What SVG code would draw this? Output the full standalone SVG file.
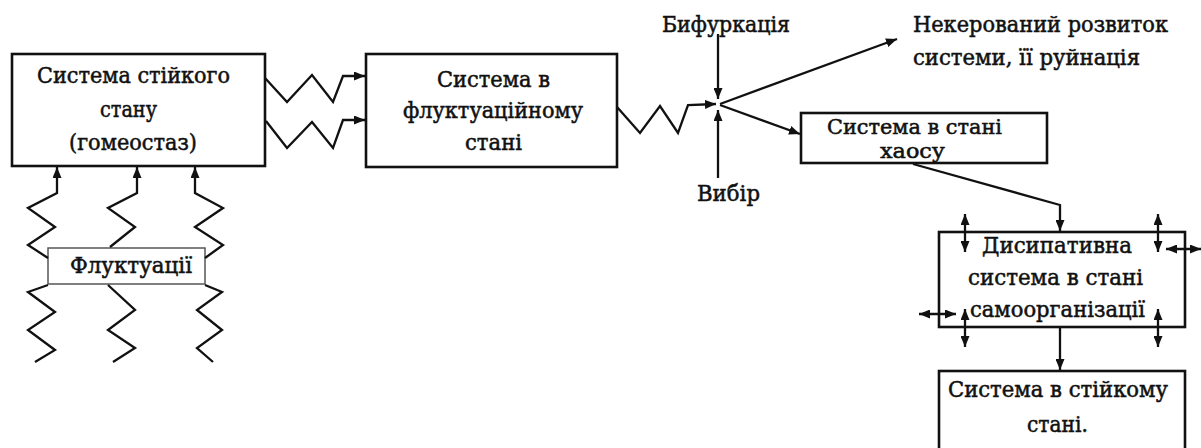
<svg xmlns="http://www.w3.org/2000/svg" width="1201" height="448" viewBox="0 0 1201 448">
<style>
.box{fill:#fff;stroke:#111;stroke-width:2.6}
.fbox{fill:#fff;stroke:#555;stroke-width:1.5}
.t{font-family:'DejaVu Serif','Liberation Serif',serif;font-size:23px;fill:#111;stroke:#111;stroke-width:0.55}
.s{font-size:21px}
.ln{fill:none;stroke:#111;stroke-width:2.3;stroke-linejoin:miter}
.zz{fill:none;stroke:#111;stroke-width:2.3;stroke-linejoin:miter}
.a{marker-end:url(#ah)}
.aa{marker-start:url(#ah);marker-end:url(#ah)}
</style>
<defs>
<marker id="ah" viewBox="0 0 11 9" refX="11" refY="4.5" markerWidth="11" markerHeight="9" orient="auto-start-reverse" markerUnits="userSpaceOnUse">
<path d="M0,0 L11,4.5 L0,9 z" fill="#111"/>
</marker>
</defs>
<rect width="1201" height="448" fill="#fff"/>
<g id="node-stable">
<rect class="box" x="12" y="54" width="253" height="112"/>
<text class="t" x="37" y="83" textLength="193" lengthAdjust="spacingAndGlyphs">Система стійкого</text>
<text class="t" x="100" y="117" textLength="57" lengthAdjust="spacingAndGlyphs">стану</text>
<text class="t" x="69" y="150" textLength="128" lengthAdjust="spacingAndGlyphs">(гомеостаз)</text>
</g>
<g id="node-fluct-state">
<rect class="box" x="366" y="54" width="251" height="113"/>
<text class="t" x="437" y="87" textLength="113" lengthAdjust="spacingAndGlyphs">Система в</text>
<text class="t" x="403" y="118" textLength="180" lengthAdjust="spacingAndGlyphs">флуктуаційному</text>
<text class="t" x="465" y="150" textLength="57" lengthAdjust="spacingAndGlyphs">стані</text>
</g>
<g id="node-fluctuations">
<rect class="fbox" x="48" y="248" width="157" height="36"/>
<text class="t" x="70" y="273" textLength="122" lengthAdjust="spacingAndGlyphs">Флуктуації</text>
</g>
<g id="node-bifurcation">
<text class="t" x="662" y="32" textLength="128" lengthAdjust="spacingAndGlyphs">Бифуркація</text>
</g>
<g id="node-choice">
<text class="t" x="697" y="201" textLength="63" lengthAdjust="spacingAndGlyphs">Вибір</text>
</g>
<g id="node-ruin">
<text class="t" x="913" y="32" textLength="255" lengthAdjust="spacingAndGlyphs">Некерований розвиток</text>
<text class="t" x="913" y="65" textLength="227" lengthAdjust="spacingAndGlyphs">системи, її руйнація</text>
</g>
<g id="node-chaos">
<rect class="box" x="801" y="113" width="246" height="50"/>
<text class="t s" x="827" y="134" textLength="175" lengthAdjust="spacingAndGlyphs">Система в стані</text>
<text class="t s" x="880" y="158" textLength="65" lengthAdjust="spacingAndGlyphs">хаосу</text>
</g>
<g id="node-dissipative">
<rect class="box" x="939" y="232" width="246" height="95"/>
<text class="t" x="982" y="253" textLength="150" lengthAdjust="spacingAndGlyphs">Дисипативна</text>
<text class="t" x="968" y="285" textLength="175" lengthAdjust="spacingAndGlyphs">система в стані</text>
<text class="t" x="970" y="317" textLength="175" lengthAdjust="spacingAndGlyphs">самоорганізації</text>
</g>
<g id="node-steady">
<rect class="box" x="939" y="371" width="246" height="90"/>
<text class="t" x="948" y="397" textLength="220" lengthAdjust="spacingAndGlyphs">Система в стійкому</text>
<text class="t" x="1027" y="432" textLength="61" lengthAdjust="spacingAndGlyphs">стані.</text>
</g>
<g id="connectors">
<polyline class="zz a" points="265,78 287,102 312,75 333,102 343,76 365,76"/>
<polyline class="zz a" points="266,121 287,148 312,122 333,148 343,120 365,120"/>
<polyline class="zz a" points="617,107 640,133 660,106 678,133 688,105 716,104"/>
<line class="ln a" x1="718" y1="34" x2="718" y2="99"/>
<line class="ln a" x1="718" y1="178" x2="718" y2="110"/>
<line class="ln a" x1="720" y1="104" x2="897" y2="39"/>
<line class="ln a" x1="720" y1="105" x2="800" y2="134"/>
<polyline class="ln a" points="913,164 1060,205 1060,231"/>
<line class="ln a" x1="1060" y1="328" x2="1060" y2="370"/>
<line class="ln aa" x1="965" y1="214" x2="965" y2="252"/>
<line class="ln aa" x1="1158" y1="214" x2="1158" y2="252"/>
<line class="ln aa" x1="1166" y1="249" x2="1201" y2="249"/>
<line class="ln aa" x1="919" y1="314" x2="956" y2="314"/>
<line class="ln aa" x1="965" y1="309" x2="965" y2="347"/>
<line class="ln aa" x1="1158" y1="309" x2="1158" y2="347"/>
<polyline class="zz a" points="48,258 28,245 55,227 28,208 57,193 57,167"/>
<polyline class="zz a" points="110,247 135,227 108,208 137,193 137,167"/>
<polyline class="zz a" points="205,258 223,245 195,227 223,208 195,193 195,167"/>
<polyline class="zz" points="48,285 28,292 55,312 28,330 55,350 35,362"/>
<polyline class="zz" points="108,285 135,310 108,330 135,348 113,362"/>
<polyline class="zz" points="205,285 222,292 197,310 222,330 197,348 213,362"/>
</g>
</svg>
